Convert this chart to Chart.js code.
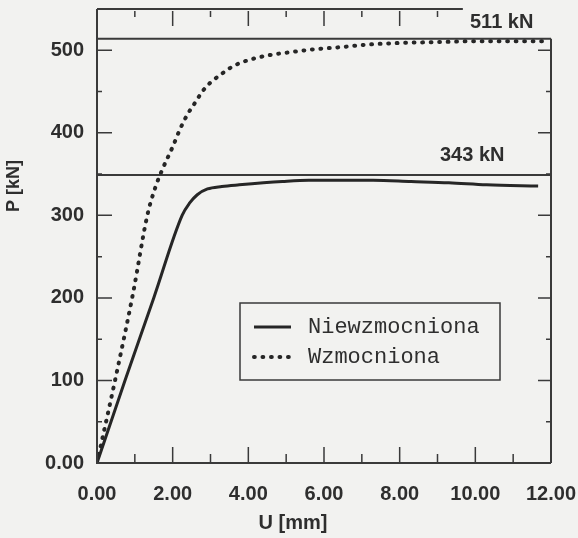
<!DOCTYPE html>
<html>
<head>
<meta charset="utf-8">
<script src="https://cdn.jsdelivr.net/npm/chart.js@4.4.1/dist/chart.umd.min.js"></script>
<style>
  html, body { margin: 0; padding: 0; background: #f2f2f0; }
  canvas { display: block; }
</style>
</head>
<body>
<canvas id="pu" width="578" height="538"></canvas>
<script>
// values
const xTicks = [0, 2, 4, 6, 8, 10, 12];
const xTickLabels = ['0.00', '2.00', '4.00', '6.00', '8.00', '10.00', '12.00'];
const yTicks = [0, 100, 200, 300, 400, 500];
const yTickLabels = ['0.00', '100', '200', '300', '400', '500'];
const xMinorTicks = [1, 2, 3, 4, 5, 6, 7, 8, 9, 10, 11];
const xTopTicks = [1, 2, 3, 4, 5, 6, 7, 8, 9];
const yMinorTicks = [50, 100, 150, 200, 250, 300, 350, 400, 450, 500];

const seriesNames = ['Niewzmocniona', 'Wzmocniona'];
const uNiewzm = [0, 0.74, 1.5, 2.25, 2.45, 2.65, 2.92, 3.3, 3.76, 4.9, 5.6, 6.5, 7.3, 8.3, 9.3, 10.3, 11.66];
const pNiewzm = [0, 100, 200, 300, 315, 325, 332, 335, 337, 341, 342.5, 342.5, 342.5, 341, 339.5, 337, 335.5];
const uWzm = [0, 0.5, 0.95, 1.33, 1.55, 1.75, 2.0, 2.2, 2.4, 2.6, 2.8, 3.0, 3.25, 3.5, 3.75, 4.0, 4.33, 4.67, 5.0, 5.7, 6.5, 7.2, 8.1, 9.1, 10, 11, 11.85];
const pWzm = [0, 105, 205, 300, 335, 358, 383, 405, 423, 437, 451, 461, 470, 478, 484, 488, 492, 495, 497, 501, 504, 507, 509, 510, 511, 511, 511];

// horizontal reference lines and their captions
const refLevels = [514, 349];
const refLabels = ['511 kN', '343 kN'];
const xTitle = 'U [mm]';
const yTitle = 'P [kN]';

const ink = '#2e2e2e';
const bg = '#f2f2f0';
const boldFont = 'bold 20px "Liberation Sans", Arial, sans-serif';

const toPts = (xs, ys) => xs.map((v, i) => ({x: v, y: ys[i]}));

// frame, inner ticks, titles, captions
const decor = {
  id: 'decor',
  afterDatasetsDraw(chart) {
    const {ctx, chartArea: a, scales: {x, y}} = chart;
    ctx.save();
    ctx.strokeStyle = '#3a3a3a';
    ctx.lineWidth = 2;
    ctx.beginPath();
    ctx.moveTo(a.left, a.top); ctx.lineTo(a.left, a.bottom); ctx.lineTo(a.right, a.bottom);
    ctx.moveTo(a.left, a.top); ctx.lineTo(x.getPixelForValue(9.67), a.top);
    ctx.moveTo(a.right, y.getPixelForValue(refLevels[0])); ctx.lineTo(a.right, a.bottom);
    ctx.stroke();

    ctx.lineWidth = 1.5;
    ctx.beginPath();
    xMinorTicks.forEach(v => {
      const px = x.getPixelForValue(v), len = v % 2 === 0 ? 16 : 9;
      ctx.moveTo(px, a.bottom); ctx.lineTo(px, a.bottom - len);
    });
    xTopTicks.forEach(v => {
      const px = x.getPixelForValue(v), len = v % 2 === 0 ? 17 : 8;
      ctx.moveTo(px, a.top + 2); ctx.lineTo(px, a.top + len);
    });
    yMinorTicks.forEach(v => {
      const py = y.getPixelForValue(v), major = v % 100 === 0;
      ctx.moveTo(a.left, py); ctx.lineTo(a.left + (major ? 15 : 5), py);
      ctx.moveTo(a.right, py); ctx.lineTo(a.right - (major ? 13 : 5), py);
    });
    ctx.stroke();

    ctx.fillStyle = ink;
    ctx.font = boldFont;
    ctx.textBaseline = 'middle';
    ctx.textAlign = 'left';
    ctx.fillText(refLabels[0], 470, 22);
    ctx.fillText(refLabels[1], 440, 155);
    ctx.textAlign = 'center';
    ctx.fillText(xTitle, 293, 523);
    ctx.translate(14, 186);
    ctx.rotate(-Math.PI / 2);
    ctx.font = 'bold 18px "Liberation Sans", Arial, sans-serif';
    ctx.fillText(yTitle, 0, 0);
    ctx.restore();
  }
};

// boxed legend inside the plot
const boxLegend = {
  id: 'boxLegend',
  afterDraw(chart) {
    const {ctx} = chart;
    const bx = 240, by = 303, bw = 260, bh = 77;
    ctx.save();
    ctx.fillStyle = bg;
    ctx.fillRect(bx, by, bw, bh);
    ctx.strokeStyle = '#3a3a3a';
    ctx.lineWidth = 1.5;
    ctx.strokeRect(bx, by, bw, bh);
    chart.data.datasets.slice(0, 2).forEach((ds, i) => {
      const ly = 327 + i * 30;
      ctx.strokeStyle = ds.borderColor;
      ctx.lineWidth = ds.borderWidth;
      ctx.lineCap = ds.borderCapStyle || 'butt';
      ctx.setLineDash(ds.borderDash || []);
      ctx.beginPath();
      ctx.moveTo(254, ly); ctx.lineTo(291, ly);
      ctx.stroke();
      ctx.setLineDash([]);
      ctx.fillStyle = ink;
      ctx.font = '22px "Liberation Mono", "Courier New", monospace';
      ctx.textBaseline = 'middle';
      ctx.fillText(ds.label, 308, ly);
    });
    ctx.restore();
  }
};

const bgFill = {
  id: 'bgFill',
  beforeDraw(chart) {
    const {ctx} = chart;
    ctx.save();
    ctx.fillStyle = bg;
    ctx.fillRect(0, 0, chart.width, chart.height);
    ctx.restore();
  }
};

const ctx = document.getElementById('pu').getContext('2d');
const chart = new Chart(ctx, {
  type: 'line',
  data: {
    datasets: [{
      label: seriesNames[0],
      data: toPts(uNiewzm, pNiewzm),
      borderColor: '#262626',
      borderWidth: 3,
      cubicInterpolationMode: 'monotone',
      pointRadius: 0
    }, {
      label: seriesNames[1],
      data: toPts(uWzm, pWzm),
      borderColor: '#262626',
      borderWidth: 4,
      borderDash: [0.8, 7.7],
      borderCapStyle: 'round',
      cubicInterpolationMode: 'monotone',
      pointRadius: 0
    }, {
      label: 'ref1',
      data: [{x: 0, y: refLevels[0]}, {x: 12, y: refLevels[0]}],
      borderColor: '#3a3a3a',
      borderWidth: 2,
      pointRadius: 0
    }, {
      label: 'ref2',
      data: [{x: 0, y: refLevels[1]}, {x: 12, y: refLevels[1]}],
      borderColor: '#3a3a3a',
      borderWidth: 2,
      pointRadius: 0
    }]
  },
  options: {
    responsive: false,
    animation: false,
    devicePixelRatio: 1,
    layout: {padding: {top: 9, right: 27, left: 0, bottom: 0}},
    plugins: {legend: {display: false}, tooltip: {enabled: false}},
    scales: {
      x: {
        type: 'linear', min: 0, max: 12,
        grid: {display: false, drawTicks: false}, border: {display: false},
        afterBuildTicks: s => { s.ticks = xTicks.map(v => ({value: v})); },
        afterFit: s => { s.height = 75; s.paddingLeft = 0; s.paddingRight = 0; },
        ticks: {
          autoSkip: false, maxRotation: 0, padding: 19, color: ink,
          font: {family: '"Liberation Sans", Arial, sans-serif', size: 20, weight: 'bold'},
          callback: (v, i) => xTickLabels[i]
        }
      },
      y: {
        min: 0, max: 550,
        grid: {display: false, drawTicks: false}, border: {display: false},
        afterBuildTicks: s => { s.ticks = yTicks.map(v => ({value: v})); },
        afterFit: s => { s.width = 97; s.paddingTop = 0; s.paddingBottom = 0; },
        ticks: {
          padding: 13, color: ink,
          font: {family: '"Liberation Sans", Arial, sans-serif', size: 20, weight: 'bold'},
          callback: (v, i) => yTickLabels[i]
        }
      }
    }
  },
  plugins: [bgFill, decor, boxLegend]
});
</script>
</body>
</html>
